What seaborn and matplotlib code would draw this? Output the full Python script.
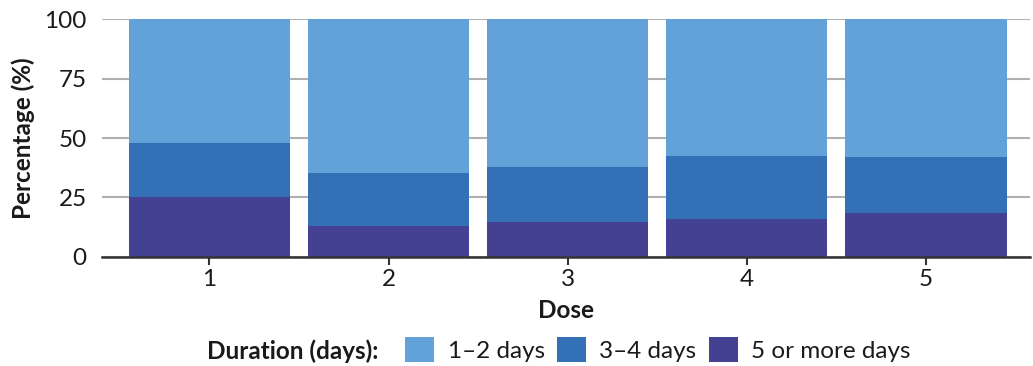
import matplotlib
matplotlib.use("Agg")
import matplotlib.pyplot as plt
import seaborn as sns
import pandas as pd
from matplotlib.patches import Patch

# Share of reactions by duration, per dose (percent)
doses = ["1", "2", "3", "4", "5"]
days_1_2 = [52.0, 64.7, 62.2, 57.6, 58.0]
days_3_4 = [23.0, 22.3, 23.2, 26.4, 23.6]
days_5_plus = [25.0, 13.0, 14.6, 16.0, 18.4]
series_labels = ["1–2 days", "3–4 days", "5 or more days"]
colors = ["#62A2D9", "#3470B5", "#444193"]

df = pd.DataFrame({
    "Dose": doses,
    "d12": days_1_2,
    "d34": days_3_4,
    "d5": days_5_plus,
})
# cumulative heights for stacking (drawn back to front)
df["top"] = df["d5"] + df["d34"] + df["d12"]
df["mid"] = df["d5"] + df["d34"]
df["low"] = df["d5"]

sns.set_theme(style="white")
plt.rcParams["font.family"] = ["Lato", "DejaVu Sans"]

FS = 17.5
TXT = "#1a1a1a"

fig = plt.figure(figsize=(10.33, 3.66), dpi=100)
ax = fig.add_axes([0.0987, 0.2986, 0.8983, 0.6484])

for col, c in zip(["top", "mid", "low"], colors):
    sns.barplot(data=df, x="Dose", y=col, color=c, width=0.9,
                saturation=1, linewidth=0, edgecolor="none", ax=ax, zorder=2)

ax.set_ylim(0, 100)
ax.set_xlim(-0.6, 4.58)
ax.set_yticks([0, 25, 50, 75, 100])
ax.yaxis.grid(True, color="#b0b0b0", linewidth=1.5, zorder=0)
ax.set_axisbelow(True)
for s in ["top", "right", "left"]:
    ax.spines[s].set_visible(False)
ax.spines["bottom"].set_color("#333333")
ax.spines["bottom"].set_linewidth(1.8)
ax.spines["bottom"].set_zorder(3)

ax.tick_params(axis="x", bottom=True, length=6, width=1.5, color="#333333",
               labelsize=FS, pad=3, labelcolor=TXT)
ax.tick_params(axis="y", left=False, labelsize=FS, pad=5, labelcolor=TXT)

ax.set_xlabel("Dose", fontsize=FS, fontweight="bold", color=TXT, labelpad=6)
ax.set_ylabel("Percentage (%)", fontsize=FS, fontweight="bold", color=TXT, labelpad=7)

handles = [Patch(facecolor=c, edgecolor="none") for c in colors]
fig.text(0.2, 0.018, "Duration (days):", fontsize=FS, fontweight="bold",
         color=TXT, ha="left", va="baseline")
fig.legend(handles, series_labels, loc="lower left", bbox_to_anchor=(0.371, -0.048),
           ncol=3, frameon=False, fontsize=FS, handlelength=1.2, handleheight=1.15,
           handletextpad=0.55, columnspacing=0.5, labelcolor=TXT)

fig.savefig("out.png", dpi=100)
